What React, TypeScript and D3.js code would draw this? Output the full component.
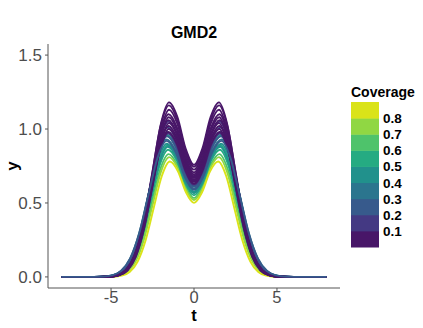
import React from "react";
import * as d3 from "d3";

// Evaluation grid (t) and the normalised bimodal profile
const tGrid = [-8, -6, -5, -4.5, -4, -3.5, -3, -2.5, -2, -1.5, -1, -0.5, 0, 0.5, 1, 1.5, 2, 2.5, 3, 3.5, 4, 4.5, 5, 6, 8];
const profile = [0, 0, 0.002, 0.011, 0.043, 0.134, 0.321, 0.6, 0.875, 1, 0.916, 0.734, 0.642, 0.734, 0.916, 1, 0.875, 0.6, 0.321, 0.134, 0.043, 0.011, 0.002, 0, 0];

// One entry per curve: coverage value, peak height, horizontal spread
const coverage = [0.45, 0.35, 0.55, 0.42, 0.65, 0.75, 0.58, 0.85, 0.32, 0.48, 0.25, 0.22, 0.15, 0.12, 0.05, 0.05, 0.05, 0.05, 0.05, 0.05, 0.05, 0.05, 0.05, 0.05, 0.28];
const peaks = [0.96, 0.93, 0.89, 0.9, 0.83, 0.81, 0.86, 0.78, 0.98, 0.88, 1.01, 0.95, 1.05, 0.97, 1.18, 1.16, 1.13, 1.1, 1.08, 1.06, 1.04, 1.02, 1.0, 0.98, 0.92];
const spreads = [1.08, 1.1, 1.06, 1.09, 1.02, 1.0, 1.04, 0.97, 1.07, 1.05, 1.06, 1.08, 1.03, 1.04, 1.0, 1.01, 1.0, 1.02, 1.01, 1.03, 1.0, 1.02, 1.01, 1.03, 1.1];

const legendBreaks = [0.1, 0.2, 0.3, 0.4, 0.5, 0.6, 0.7, 0.8];
const xTicks = [-5, 0, 5];
const yTicks = [0, 0.5, 1, 1.5];

const W = 423;
const H = 328;
const font = "'Liberation Sans', Arial, sans-serif";

export default function App() {
  const x = d3.scaleLinear().domain([-8.8, 8.8]).range([48, 340]);
  const y = d3.scaleLinear().domain([-0.075, 1.575]).range([288, 44]);

  const nBins = legendBreaks.length + 1;
  const binColors = d3.range(nBins).map((i) => d3.interpolateViridis((i + 0.5) / nBins));
  const binScale = d3.scaleThreshold<number, string>().domain(legendBreaks).range(binColors);

  const line = d3
    .line<[number, number]>()
    .x((d) => x(d[0]))
    .y((d) => y(d[1]))
    .curve(d3.curveMonotoneX);

  const barX = 351;
  const barW = 28;
  const barTop = 102;
  const barBottom = 247;
  const binH = (barBottom - barTop) / nBins;
  const legendY = d3.scaleLinear().domain([0, 0.9]).range([barBottom, barTop]);

  return (
    <svg width={W} height={H} style={{ position: "absolute", left: 0, top: 0, background: "#fff" }}>
      <rect x={0} y={0} width={W} height={H} fill="#fff" />
      {/* curves */}
      <g fill="none" strokeWidth={1.9} strokeLinejoin="round">
        {peaks.map((p, i) => {
          const pts: [number, number][] = tGrid.map((t, j) => [
            Math.abs(t) >= 8 ? t : t * spreads[i],
            p * profile[j],
          ]);
          return <path key={i} d={line(pts) || ""} stroke={binScale(coverage[i])} />;
        })}
      </g>
      {/* axes */}
      <line x1={48} x2={48} y1={44} y2={288} stroke="#555" strokeWidth={1} />
      <line x1={48} x2={340} y1={288} y2={288} stroke="#555" strokeWidth={1} />
      {yTicks.map((v) => (
        <g key={v}>
          <line x1={45} x2={48} y1={y(v)} y2={y(v)} stroke="#555" />
          <text x={42} y={y(v) + 6} textAnchor="end" fontSize={17} fill="#4d4d4d" fontFamily={font}>
            {d3.format(".1f")(v)}
          </text>
        </g>
      ))}
      {xTicks.map((v) => (
        <g key={v}>
          <line x1={x(v)} x2={x(v)} y1={288} y2={291} stroke="#555" />
          <text x={x(v)} y={303} textAnchor="middle" fontSize={16.5} fill="#4d4d4d" fontFamily={font}>
            {v}
          </text>
        </g>
      ))}
      {/* titles */}
      <text x={194} y={38} textAnchor="middle" fontSize={16} fontWeight="bold" fontFamily={font}>
        GMD2
      </text>
      <text x={194} y={321} textAnchor="middle" fontSize={16.5} fontWeight="bold" fontFamily={font}>
        t
      </text>
      <text
        transform={`translate(18,166) rotate(-90)`}
        textAnchor="middle"
        fontSize={17}
        fontWeight="bold"
        fontFamily={font}
      >
        y
      </text>
      {/* legend */}
      <text x={351} y={97} fontSize={14} fontWeight="bold" fontFamily={font}>
        Coverage
      </text>
      {binColors.map((c, i) => (
        <rect key={i} x={barX} y={barBottom - (i + 1) * binH} width={barW} height={binH + 0.5} fill={c} />
      ))}
      {legendBreaks.map((b) => (
        <text key={b} x={383} y={legendY(b) + 5} fontSize={13.5} fontWeight="bold" fontFamily={font}>
          {b.toFixed(1)}
        </text>
      ))}
    </svg>
  );
}
